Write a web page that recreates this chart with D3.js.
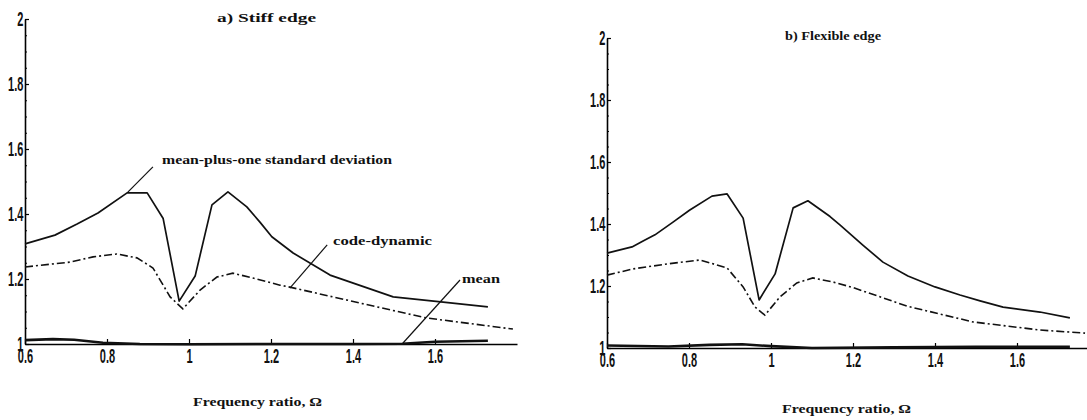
<!DOCTYPE html>
<html>
<head>
<meta charset="utf-8">
<script src="https://cdn.jsdelivr.net/npm/d3@7"></script>
<style>
    body { margin: 0; background: #fff; }
    .note { font-family: "Liberation Serif", "Times New Roman", serif; font-weight: bold; font-size: 12px; fill: #111; }
</style>
</head>
<body>
<script>
// two panels of response ratio vs frequency ratio

//panel a) stiff edge - mean-plus-one standard deviation
var stiffSdX = [0.6, 0.673, 0.727, 0.778, 0.849, 0.898, 0.937, 0.976, 1.015, 1.056, 1.095, 1.141, 1.173, 1.202, 1.254, 1.344, 1.498, 1.62, 1.729];
var stiffSdY = [1.308, 1.335, 1.369, 1.403, 1.465, 1.465, 1.386, 1.132, 1.209, 1.428, 1.468, 1.422, 1.375, 1.33, 1.28, 1.212, 1.145, 1.129, 1.114];
//panel a) code-dynamic
var stiffCodeX = [0.6, 0.71, 0.766, 0.824, 0.873, 0.912, 0.954, 0.985, 1.027, 1.068, 1.107, 1.156, 1.222, 1.246, 1.417, 1.58, 1.79];
var stiffCodeY = [1.237, 1.252, 1.268, 1.277, 1.265, 1.234, 1.145, 1.108, 1.166, 1.206, 1.218, 1.203, 1.181, 1.175, 1.126, 1.08, 1.046];
//panel a) mean
var stiffMeanX = [0.6, 0.668, 0.72, 0.79, 0.88, 1.0, 1.2, 1.4, 1.52, 1.6, 1.729];
var stiffMeanY = [1.012, 1.015, 1.013, 1.004, 1.0, 0.999, 1.0, 1.0, 1.001, 1.007, 1.01];

//panel b) flexible edge - mean-plus-one standard deviation
var flexSdX = [0.6, 0.661, 0.688, 0.717, 0.761, 0.802, 0.856, 0.893, 0.932, 0.971, 1.01, 1.054, 1.09, 1.144, 1.168, 1.224, 1.273, 1.334, 1.4, 1.461, 1.51, 1.566, 1.656, 1.729];
var flexSdY = [1.306, 1.326, 1.345, 1.365, 1.406, 1.445, 1.49, 1.497, 1.419, 1.155, 1.239, 1.452, 1.475, 1.424, 1.397, 1.332, 1.277, 1.232, 1.197, 1.171, 1.152, 1.132, 1.116, 1.097];
//panel b) code-dynamic
var flexCodeX = [0.6, 0.663, 0.746, 0.827, 0.893, 0.932, 0.961, 0.985, 1.022, 1.063, 1.102, 1.151, 1.2, 1.332, 1.493, 1.656, 1.766];
var flexCodeY = [1.235, 1.255, 1.271, 1.284, 1.258, 1.197, 1.132, 1.106, 1.165, 1.21, 1.226, 1.213, 1.195, 1.135, 1.084, 1.058, 1.048];
//panel b) mean
var flexMeanX = [0.6, 0.75, 0.85, 0.93, 1.0, 1.1, 1.3, 1.5, 1.729];
var flexMeanY = [1.008, 1.005, 1.01, 1.012, 1.006, 1.0, 1.002, 1.004, 1.004];

//axis ticks
var xTicks = [0.6, 0.8, 1, 1.2, 1.4, 1.6];
var yTicks = [1, 1.2, 1.4, 1.6, 1.8, 2];

var svg = d3.select("body")
    .append("svg")
    .attr("width", 1087)
    .attr("height", 420);

function zip(xs, ys){
    return xs.map(function(x, i){ return [x, ys[i]]; });
};

//narrow, tall tick labels like the scanned original
function squeeze(s){
    s.selectAll(".tick text")
        .attr("fill", "#111")
        .style("font-family", "'Liberation Sans', Arial, sans-serif")
        .style("font-size", "20px")
        .style("font-weight", "bold")
        .attr("transform", "scale(0.55,1)");
};

function drawPanel(p){
    var x = d3.scaleLinear().domain([0.6, 1.8]).range([p.left, p.left + 492]);
    var y = d3.scaleLinear().domain([1, 2]).range([p.bottom, p.top]);

    var g = svg.append("g");

    //minor ticks on y axis
    g.append("g")
        .attr("transform", "translate(" + p.left + ",0)")
        .call(d3.axisLeft(y).tickValues(d3.range(1, 2.001, 0.05)).tickSize(-2).tickFormat(""))
        .call(function(s){ s.select(".domain").remove(); });

    //y axis
    g.append("g")
        .attr("transform", "translate(" + p.left + ",0)")
        .call(d3.axisLeft(y).tickValues(yTicks).tickSizeInner(-4).tickSizeOuter(0).tickPadding(3)
            .tickFormat(function(d){ return d3.format("")(d); }))
        .call(squeeze)
        .call(function(s){
            s.select(".domain").attr("stroke-width", 1.6);
            s.selectAll(".tick line").attr("stroke-width", 1.2);
        });

    //x axis
    g.append("g")
        .attr("transform", "translate(0," + p.bottom + ")")
        .call(d3.axisBottom(x).tickValues(xTicks).tickSizeInner(-5).tickSizeOuter(0).tickPadding(5)
            .tickFormat(function(d){ return d3.format("")(d); }))
        .call(squeeze)
        .call(function(s){
            s.select(".domain").attr("stroke-width", 1.6);
            s.selectAll(".tick line").attr("stroke-width", 1.2);
        });

    var line = d3.line()
        .x(function(d){ return x(d[0]); })
        .y(function(d){ return y(d[1]); });

    //mean
    g.append("path")
        .datum(zip(p.meanX, p.meanY))
        .attr("d", line)
        .attr("fill", "none")
        .attr("stroke", "#111")
        .attr("stroke-width", 2.6);

    //code-dynamic
    g.append("path")
        .datum(zip(p.codeX, p.codeY))
        .attr("d", line)
        .attr("fill", "none")
        .attr("stroke", "#111")
        .attr("stroke-width", 1.6)
        .attr("stroke-dasharray", "8,3,2,3");

    //mean-plus-one standard deviation
    g.append("path")
        .datum(zip(p.sdX, p.sdY))
        .attr("d", line)
        .attr("fill", "none")
        .attr("stroke", "#111")
        .attr("stroke-width", 1.7)
        .attr("stroke-linejoin", "round");

    //title
    g.append("text")
        .attr("class", "note")
        .attr("x", p.titleX)
        .attr("y", p.titleY)
        .attr("textLength", p.titleW)
        .attr("lengthAdjust", "spacingAndGlyphs")
        .text(p.title);

    //x axis label
    g.append("text")
        .attr("class", "note")
        .attr("x", p.labelX)
        .attr("y", p.labelY)
        .attr("textLength", 129)
        .attr("lengthAdjust", "spacingAndGlyphs")
        .text("Frequency ratio, Ω");

    return {x: x, y: y, g: g};
};

var a = drawPanel({
    left: 25, top: 19, bottom: 344,
    sdX: stiffSdX, sdY: stiffSdY, codeX: stiffCodeX, codeY: stiffCodeY, meanX: stiffMeanX, meanY: stiffMeanY,
    title: "a) Stiff edge", titleX: 217, titleY: 22, titleW: 99,
    labelX: 193, labelY: 406
});

drawPanel({
    left: 607, top: 38, bottom: 348,
    sdX: flexSdX, sdY: flexSdY, codeX: flexCodeX, codeY: flexCodeY, meanX: flexMeanX, meanY: flexMeanY,
    title: "b) Flexible edge", titleX: 785, titleY: 40, titleW: 96,
    labelX: 782, labelY: 413
});

//annotations on panel a
var notes = [
    {text: "mean-plus-one standard deviation", tx: 162, ty: 164, w: 230, from: [0.912, 1.545], to: [0.849, 1.465]},
    {text: "code-dynamic", tx: 333, ty: 245, w: 99, from: [1.337, 1.305], to: [1.246, 1.172]},
    {text: "mean", tx: 462, ty: 283, w: 38, from: [1.661, 1.197], to: [1.522, 1.003]}
];
notes.forEach(function(n){
    a.g.append("text")
        .attr("class", "note")
        .attr("x", n.tx)
        .attr("y", n.ty)
        .attr("textLength", n.w)
        .attr("lengthAdjust", "spacingAndGlyphs")
        .text(n.text);
    a.g.append("line")
        .attr("x1", a.x(n.from[0])).attr("y1", a.y(n.from[1]))
        .attr("x2", a.x(n.to[0])).attr("y2", a.y(n.to[1]))
        .attr("stroke", "#111")
        .attr("stroke-width", 1.2);
});
</script>
</body>
</html>
